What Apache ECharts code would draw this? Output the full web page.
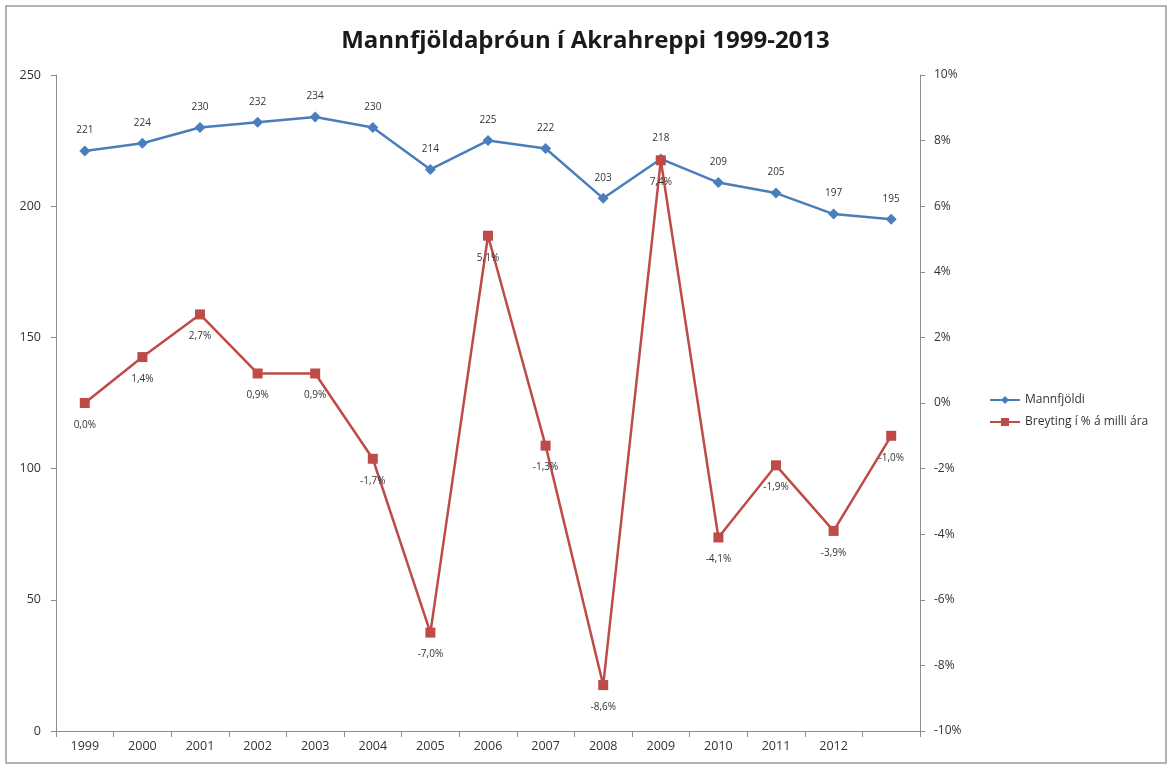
<!DOCTYPE html>
<html>
<head>
<meta charset="utf-8">
<script src="https://cdn.jsdelivr.net/npm/echarts@6/dist/echarts.min.js"></script>
<style>
	html, body { margin: 0; padding: 0; background: #fff; }
	#chart { width: 1171px; height: 767px; }
</style>
</head>
<body>
<div id="chart"></div>
<script>
	// gögn lesin af myndinni
	const years = ['1999', '2000', '2001', '2002', '2003', '2004', '2005', '2006', '2007', '2008', '2009', '2010', '2011', '2012', '']
	const mannfjoldi = [221, 224, 230, 232, 234, 230, 214, 225, 222, 203, 218, 209, 205, 197, 195]
	const breyting = [0.0, 1.4, 2.7, 0.9, 0.9, -1.7, -7.0, 5.1, -1.3, -8.6, 7.4, -4.1, -1.9, -3.9, -1.0]

	const font = '"Open Sans", "Liberation Sans", sans-serif'
	const axisGrey = '#8c8c8c'

	const chart = echarts.init(document.getElementById('chart'))
	chart.setOption({
		animation: false,
		textStyle: { fontFamily: font },
		title: {
			text: 'Mannfjöldaþróun í Akrahreppi 1999-2013',
			left: 'center',
			top: 24,
			textStyle: { fontSize: 24, fontWeight: 'bold', color: '#1a1a1a', fontFamily: font }
		},
		graphic: [{
			type: 'rect',
			shape: { x: 6, y: 6, width: 1160, height: 757 },
			style: { fill: 'none', stroke: '#9a9a9a', lineWidth: 1.5 },
			silent: true
		}],
		legend: {
			orient: 'vertical',
			left: 984,
			top: 389,
			itemGap: 10,
			itemWidth: 30,
			itemHeight: 10,
			textStyle: { fontSize: 12, color: '#333', fontFamily: font },
			data: ['Mannfjöldi', 'Breyting í % á milli ára']
		},
		grid: { left: 56, right: 251, top: 75, bottom: 36, containLabel: false },
		xAxis: {
			type: 'category',
			data: years,
			boundaryGap: true,
			axisLine: { lineStyle: { color: axisGrey } },
			axisTick: { show: true, alignWithLabel: false, length: 6, lineStyle: { color: axisGrey } },
			axisLabel: { color: '#333', fontSize: 12.5, margin: 9 },
			splitLine: { show: false }
		},
		yAxis: [{
			type: 'value',
			min: 0,
			max: 250,
			interval: 50,
			axisLine: { show: true, lineStyle: { color: axisGrey } },
			axisTick: { show: true, length: 5, lineStyle: { color: axisGrey } },
			axisLabel: { color: '#333', fontSize: 12.5, margin: 15 },
			splitLine: { show: false }
		}, {
			type: 'value',
			min: -10,
			max: 10,
			interval: 2,
			position: 'right',
			axisLine: { show: true, lineStyle: { color: axisGrey } },
			axisTick: { show: true, length: 5, lineStyle: { color: axisGrey } },
			axisLabel: { color: '#333', fontSize: 12, margin: 14, formatter: v => v + '%' },
			splitLine: { show: false }
		}],
		series: [{
			name: 'Mannfjöldi',
			type: 'line',
			yAxisIndex: 0,
			data: mannfjoldi,
			symbol: 'diamond',
			symbolSize: 11,
			itemStyle: { color: '#4a7ebb' },
			lineStyle: { color: '#4a7ebb', width: 2.5 },
			label: { show: true, position: 'top', distance: 10, fontSize: 10, color: '#333' }
		}, {
			name: 'Breyting í % á milli ára',
			type: 'line',
			yAxisIndex: 1,
			data: breyting,
			symbol: 'rect',
			symbolSize: 10,
			itemStyle: { color: '#be4b48' },
			lineStyle: { color: '#be4b48', width: 2.5 },
			label: {
				show: true,
				position: 'bottom',
				distance: 12,
				fontSize: 10,
				color: '#333',
				formatter: p => p.value.toFixed(1).replace('.', ',') + '%'
			}
		}]
	})
</script>
</body>
</html>
